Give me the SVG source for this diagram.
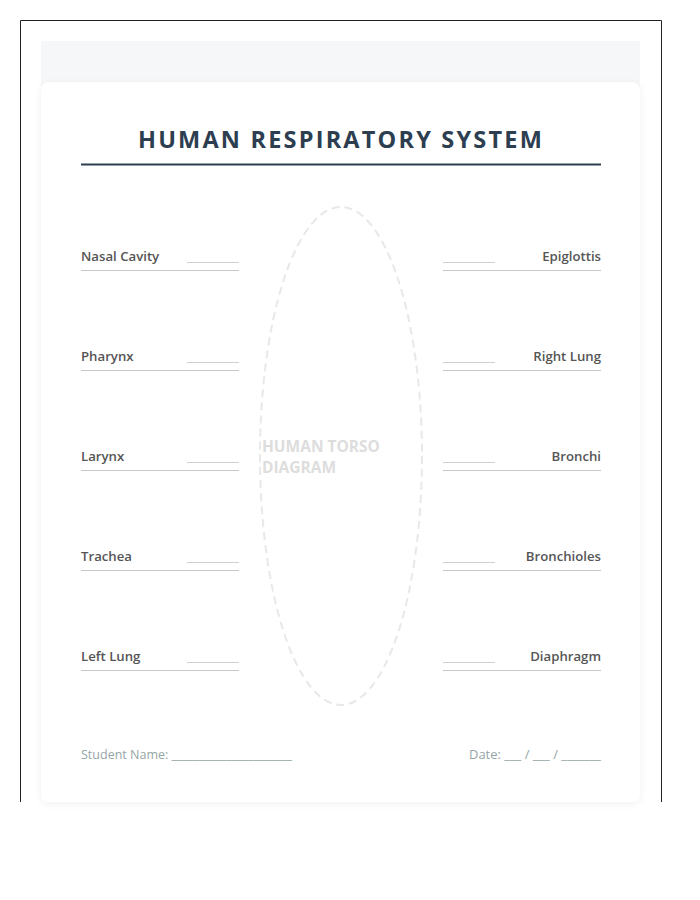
<svg xmlns="http://www.w3.org/2000/svg" width="700" height="900" viewBox="0 0 700 900">
<defs>
<filter id="sh" x="-5%" y="-5%" width="110%" height="110%">
<feGaussianBlur in="SourceAlpha" stdDeviation="4"/>
<feOffset dy="2"/>
<feComponentTransfer><feFuncA type="linear" slope="0.06"/></feComponentTransfer>
<feMerge><feMergeNode/><feMergeNode in="SourceGraphic"/></feMerge>
</filter>
</defs>
<style>
.lbl{font-family:"Open Sans","Liberation Sans",sans-serif;font-size:13.2px;font-weight:600;fill:#555}
.ul{stroke:#c8c8c8;stroke-width:1}
.blank{stroke:#d0d0d0;stroke-width:1}
.foot{font-family:"Open Sans","Liberation Sans",sans-serif;font-size:12px;fill:#95a5a6}
</style>
<rect x="0" y="0" width="700" height="900" fill="#fff"/>
<path d="M20.5 802 V20.5 H661.5 V802" fill="none" stroke="#222" stroke-width="1"/>
<rect x="41" y="41" width="599" height="50" fill="#f5f7f9"/>
<rect x="41" y="82" width="599" height="720" rx="8" fill="#fff" filter="url(#sh)"/>
<g id="title">
<text x="341" y="148" text-anchor="middle" font-family="Open Sans,Liberation Sans,sans-serif" font-size="23.5" font-weight="700" letter-spacing="2.2" fill="#2c3e50">HUMAN RESPIRATORY SYSTEM</text>
<line x1="81" y1="164.5" x2="601" y2="164.5" stroke="#2c3e50" stroke-width="2"/>
</g>
<g id="torso">
<ellipse cx="341" cy="456" rx="81" ry="249" fill="none" stroke="#e8e8e8" stroke-width="2" stroke-dasharray="8,5"/>
<text x="262" y="452" font-family="Open Sans,Liberation Sans,sans-serif" font-size="15.5" font-weight="700" fill="#dddddd">HUMAN TORSO</text>
<text x="262" y="473" font-family="Open Sans,Liberation Sans,sans-serif" font-size="15.5" font-weight="700" fill="#dddddd">DIAGRAM</text>
</g>
<g id="connectors"></g>
<g id="nasal-cavity"><text class="lbl" x="81" y="261">Nasal Cavity</text><line class="blank" x1="187" y1="262.5" x2="239" y2="262.5"/><line class="ul" x1="81" y1="270.5" x2="239" y2="270.5"/></g>
<g id="pharynx"><text class="lbl" x="81" y="361">Pharynx</text><line class="blank" x1="187" y1="362.5" x2="239" y2="362.5"/><line class="ul" x1="81" y1="370.5" x2="239" y2="370.5"/></g>
<g id="larynx"><text class="lbl" x="81" y="461">Larynx</text><line class="blank" x1="187" y1="462.5" x2="239" y2="462.5"/><line class="ul" x1="81" y1="470.5" x2="239" y2="470.5"/></g>
<g id="trachea"><text class="lbl" x="81" y="561">Trachea</text><line class="blank" x1="187" y1="562.5" x2="239" y2="562.5"/><line class="ul" x1="81" y1="570.5" x2="239" y2="570.5"/></g>
<g id="left-lung"><text class="lbl" x="81" y="661">Left Lung</text><line class="blank" x1="187" y1="662.5" x2="239" y2="662.5"/><line class="ul" x1="81" y1="670.5" x2="239" y2="670.5"/></g>
<g id="epiglottis"><text class="lbl" x="601" y="261" text-anchor="end">Epiglottis</text><line class="blank" x1="443" y1="262.5" x2="495" y2="262.5"/><line class="ul" x1="443" y1="270.5" x2="601" y2="270.5"/></g>
<g id="right-lung"><text class="lbl" x="601" y="361" text-anchor="end">Right Lung</text><line class="blank" x1="443" y1="362.5" x2="495" y2="362.5"/><line class="ul" x1="443" y1="370.5" x2="601" y2="370.5"/></g>
<g id="bronchi"><text class="lbl" x="601" y="461" text-anchor="end">Bronchi</text><line class="blank" x1="443" y1="462.5" x2="495" y2="462.5"/><line class="ul" x1="443" y1="470.5" x2="601" y2="470.5"/></g>
<g id="bronchioles"><text class="lbl" x="601" y="561" text-anchor="end">Bronchioles</text><line class="blank" x1="443" y1="562.5" x2="495" y2="562.5"/><line class="ul" x1="443" y1="570.5" x2="601" y2="570.5"/></g>
<g id="diaphragm"><text class="lbl" x="601" y="661" text-anchor="end">Diaphragm</text><line class="blank" x1="443" y1="662.5" x2="495" y2="662.5"/><line class="ul" x1="443" y1="670.5" x2="601" y2="670.5"/></g>
<g id="footer">
<text class="foot" x="81" y="759" textLength="211" lengthAdjust="spacingAndGlyphs">Student Name: ______________________</text>
<text class="foot" x="469" y="759" textLength="132" lengthAdjust="spacingAndGlyphs">Date: ___ / ___ / _______</text>
</g>
</svg>
